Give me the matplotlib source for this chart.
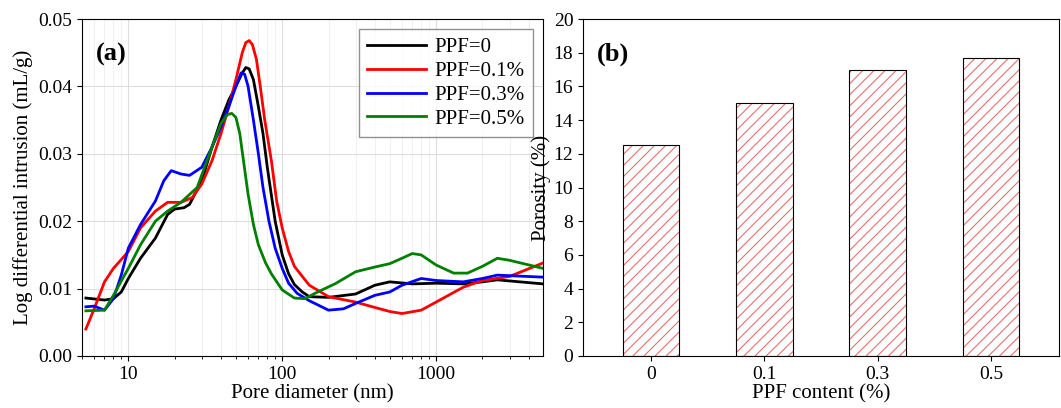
import matplotlib
matplotlib.use("Agg")
import matplotlib.pyplot as plt
import numpy as np

plt.rcParams['font.family'] = ['Liberation Serif']
plt.rcParams['hatch.linewidth'] = 0.8

black_d = [5.3,7,8,9,10,12,15,18,20,23,25,30,35,40,45,50,55,58,61,65,70,75,80,90,100,110,120,135,150,200,300,400,500,700,1000,1500,2000,2500,3500,4950]
black_v = [0.0086,0.0083,0.0085,0.0095,0.0115,0.0145,0.0175,0.021,0.0218,0.022,0.0225,0.026,0.031,0.035,0.038,0.040,0.042,0.0428,0.0426,0.041,0.037,0.033,0.028,0.020,0.015,0.0122,0.0106,0.0095,0.0088,0.0087,0.0092,0.0105,0.011,0.0107,0.0108,0.0107,0.011,0.0113,0.011,0.0107]
red_d = [5.3,6,7,8,10,12,15,18,22,26,30,35,40,45,50,55,58,61,64,68,72,77,85,92,100,110,120,150,200,300,400,500,600,800,1000,1500,2000,3000,4950]
red_v = [0.004,0.007,0.011,0.013,0.0155,0.019,0.0215,0.0228,0.0228,0.0235,0.0255,0.029,0.033,0.037,0.041,0.045,0.0465,0.0468,0.0462,0.044,0.040,0.035,0.029,0.023,0.019,0.0155,0.0133,0.0105,0.0088,0.008,0.0072,0.0066,0.0063,0.0068,0.008,0.0102,0.0112,0.0118,0.0138]
blue_d = [5.3,6,7,8,9,10,12,15,17,19,22,25,30,35,40,45,50,54,57,60,65,70,75,82,90,100,110,125,150,200,250,300,400,500,600,800,1000,1500,2000,2500,4950]
blue_v = [0.0073,0.0074,0.0068,0.0085,0.012,0.016,0.0195,0.023,0.026,0.0275,0.027,0.0268,0.028,0.031,0.034,0.037,0.040,0.042,0.0418,0.040,0.035,0.030,0.025,0.020,0.016,0.013,0.0108,0.0093,0.0082,0.0068,0.0070,0.0078,0.009,0.0095,0.0105,0.0115,0.0112,0.011,0.0115,0.012,0.0117]
green_d = [5.3,7,8,10,12,15,18,22,28,35,40,44,47,50,53,56,60,65,70,78,85,100,120,140,170,220,300,400,500,600,700,800,1000,1300,1600,2000,2500,3000,4950]
green_v = [0.0067,0.0068,0.009,0.013,0.0165,0.020,0.0215,0.0228,0.025,0.031,0.0345,0.0358,0.036,0.0354,0.033,0.029,0.024,0.0195,0.0165,0.0138,0.0122,0.0098,0.0086,0.0085,0.0095,0.0107,0.0125,0.0132,0.0137,0.0145,0.0152,0.015,0.0135,0.0123,0.0123,0.0133,0.0145,0.0142,0.013]
labels = ['PPF=0','PPF=0.1%','PPF=0.3%','PPF=0.5%']

ppf = ['0','0.1','0.3','0.5']
porosity = [12.55, 15.0, 16.95, 17.7]

fig = plt.figure(figsize=(10.61,4.08), dpi=100)
ax1 = fig.add_axes([82/1061, 1-356/408, 461/1061, 337/408])
ax2 = fig.add_axes([583/1061, 1-356/408, 476/1061, 337/408])

for d, v, c, l in zip([black_d,red_d,blue_d,green_d],[black_v,red_v,blue_v,green_v],
                      ['black','#ff0000','#0000ff','#008000'], labels):
    ax1.plot(d, v, color=c, lw=2, label=l)
ax1.set_xscale('log')
ax1.set_xlim(5, 4950)
ax1.set_ylim(0, 0.05)
ax1.set_yticks(np.arange(0,0.051,0.01))
ax1.set_yticklabels(['0.00','0.01','0.02','0.03','0.04','0.05'])
ax1.set_xticks([10,100,1000]); ax1.set_xticklabels(['10','100','1000'])
ax1.grid(True, which='major', color='#dddddd', lw=0.8)
ax1.grid(True, which='minor', axis='x', color='#eeeeee', lw=0.6)
ax1.set_axisbelow(True)
ax1.set_xlabel('Pore diameter (nm)', fontsize=15, labelpad=1)
ax1.set_ylabel('Log differential intrusion (mL/g)', fontsize=15)
ax1.tick_params(labelsize=14)
ax1.text(0.03, 0.93, '(a)', transform=ax1.transAxes, fontsize=19, fontweight='bold', va='top')
ax1.legend(loc='upper right', fontsize=15, fancybox=False, edgecolor='#777777',
           handlelength=2.8, borderaxespad=0.5, labelspacing=0.2, handletextpad=0.4,
           borderpad=0.4)

x = np.arange(len(ppf))
ax2.bar(x, porosity, width=0.5, facecolor='white', edgecolor='#e87070', hatch='///', lw=0)
ax2.bar(x, porosity, width=0.5, facecolor='none', edgecolor='black', lw=0.8)
ax2.set_xticks(x); ax2.set_xticklabels(ppf)
ax2.set_xlim(-0.6, 3.6)
ax2.set_ylim(0, 20)
ax2.set_yticks(range(0,21,2))
ax2.set_xlabel('PPF content (%)', fontsize=15, labelpad=1)
ax2.set_ylabel('Porosity (%)', fontsize=15, labelpad=2)
ax2.tick_params(labelsize=14)
ax2.text(0.03, 0.93, '(b)', transform=ax2.transAxes, fontsize=19, fontweight='bold', va='top')

fig.savefig('out.png', dpi=100)
